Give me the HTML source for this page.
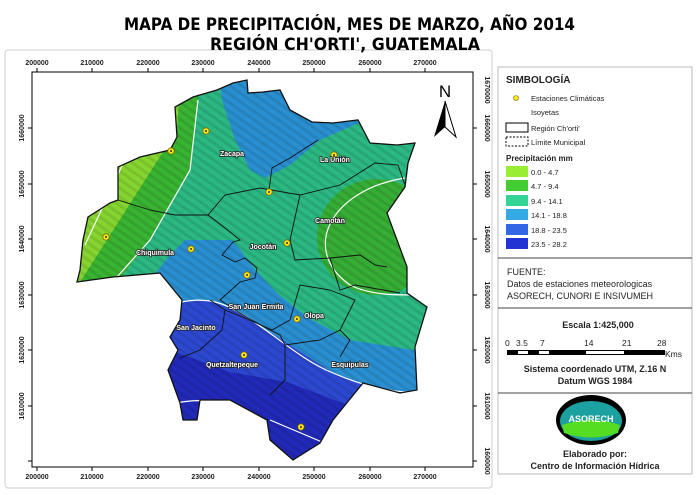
<!DOCTYPE html>
<html><head><meta charset="utf-8"><style>
body{margin:0;background:#fff}
svg{display:block;font-family:"Liberation Sans",Arial,sans-serif}
</style></head><body>
<svg width="700" height="495" viewBox="0 0 700 495" xmlns="http://www.w3.org/2000/svg">
<defs>
<clipPath id="reg"><path id="rp" d="M217,90 L233,83 L247,80 L248,93 L263,92 L280,90 L290,110 L312,122 L333,123 L358,120 L370,143 L397,145 L415,143 L408,163 L405,187 L387,213 L407,267 L407,293 L427,307 L415,347 L417,390 L400,393 L363,383 L333,420 L320,443 L293,460 L270,440 L267,420 L230,400 L200,400 L197,420 L183,420 L180,403 L168,370 L178,350 L170,337 L180,320 L182,300 L160,273 L113,277 L77,282 L80,270 L83,240 L88,217 L110,203 L118,200 L118,167 L140,157 L170,150 L177,137 L175,107 L193,97 Z"/></clipPath>
<pattern id="hs" width="7" height="7" patternUnits="userSpaceOnUse" patternTransform="rotate(35)"><rect width="7" height="3" fill="#000" opacity="0.09"/></pattern>
</defs>
<rect x="5" y="50" width="487" height="438" fill="none" stroke="#ccc" rx="3"/>
<text x="124" y="30" font-family="DejaVu Sans,sans-serif" font-size="17" font-weight="bold" textLength="451" lengthAdjust="spacingAndGlyphs">MAPA DE PRECIPITACIÓN, MES DE MARZO, AÑO 2014</text>
<text x="210" y="50" font-family="DejaVu Sans,sans-serif" font-size="17" font-weight="bold" textLength="270" lengthAdjust="spacingAndGlyphs">REGIÓN CH'ORTI', GUATEMALA</text>
<rect x="32" y="72" width="441" height="395" fill="#fff" stroke="#000"/>
<g font-size="7" font-weight="bold" fill="#222">
<g text-anchor="middle">
<text x="37" y="65">200000</text><text x="92" y="65">210000</text><text x="148" y="65">220000</text><text x="203" y="65">230000</text><text x="259" y="65">240000</text><text x="314" y="65">250000</text><text x="370" y="65">260000</text><text x="425" y="65">270000</text>
<text x="37" y="479">200000</text><text x="92" y="479">210000</text><text x="148" y="479">220000</text><text x="203" y="479">230000</text><text x="259" y="479">240000</text><text x="314" y="479">250000</text><text x="370" y="479">260000</text><text x="425" y="479">270000</text>
</g>
<g text-anchor="middle">
<text transform="translate(24,128) rotate(-90)">1660000</text><text transform="translate(24,184) rotate(-90)">1650000</text><text transform="translate(24,239) rotate(-90)">1640000</text><text transform="translate(24,295) rotate(-90)">1630000</text><text transform="translate(24,350) rotate(-90)">1620000</text><text transform="translate(24,406) rotate(-90)">1610000</text>
<text transform="translate(485,90) rotate(90)">1670000</text><text transform="translate(485,128) rotate(90)">1660000</text><text transform="translate(485,184) rotate(90)">1650000</text><text transform="translate(485,239) rotate(90)">1640000</text><text transform="translate(485,295) rotate(90)">1630000</text><text transform="translate(485,350) rotate(90)">1620000</text><text transform="translate(485,406) rotate(90)">1610000</text><text transform="translate(485,461) rotate(90)">1600000</text>
</g></g>
<g stroke="#000">
<path d="M37,72v-4M92,72v-4M148,72v-4M203,72v-4M259,72v-4M314,72v-4M370,72v-4M425,72v-4M37,467v4M92,467v4M148,467v4M203,467v4M259,467v4M314,467v4M370,467v4M425,467v4M32,128h-4M32,184h-4M32,239h-4M32,295h-4M32,350h-4M32,406h-4M32,461h-4M473,128h4M473,184h4M473,239h4M473,295h4M473,350h4M473,406h4M473,461h4"/>
</g>
<g clip-path="url(#reg)">
<rect x="60" y="70" width="380" height="400" fill="#2bb882"/>
<path d="M40,60 L200,60 L198,100 L190,170 L150,240 L115,285 L40,300 Z" fill="#38b332"/>
<path d="M40,60 L182,60 L177,130 L75,290 L40,300 Z" fill="#86d430"/>
<path d="M218,60 L222,100 L235,140 L250,170 L265,178 L290,165 L320,140 L370,118 L430,105 L430,60 Z" fill="#2a8fd0"/>
<ellipse cx="377" cy="237" rx="60" ry="58" fill="#36ad34"/>
<path d="M150,280 L170,255 L185,240 L233,240 L253,267 L277,293 L307,317 L350,340 L413,350 L440,350 L440,400 L410,392 L377,390 L333,373 L287,343 L240,313 L210,300 L182,302 L150,305 Z" fill="#2a8fd0"/>
<path d="M150,305 L182,302 L210,300 L240,313 L287,343 L333,373 L377,390 L410,392 L440,400 L440,480 L150,480 Z" fill="#2c48d0"/>
<path d="M150,350 L170,350 L230,372 L287,382 L353,407 L440,430 L440,480 L150,480 Z" fill="#2129b8"/>
<rect x="60" y="70" width="380" height="400" fill="url(#hs)"/>
<g fill="none" stroke="#fff" stroke-width="1.2">
<path d="M153,100 L120,170 L85,245"/>
<path d="M198,100 L190,170 L150,240 L117,277"/>
<path d="M405,178 C330,190 300,250 350,285 C370,295 395,295 410,295"/>
<path d="M182,302 C200,298 220,300 240,313 C270,330 300,360 333,373 C360,385 390,392 410,392"/>
<path d="M177,403 C190,400 205,400 215,402"/>
<path d="M270,420 L322,442"/>
</g>
<g fill="none" stroke="#111" stroke-width="0.9">
<path d="M118,200 L150,210 L175,215 L208,215 L225,228 L240,240 L233,242 L222,255 L235,262 L245,258 L257,268 L255,278 L240,282 L220,300 L240,313 L248,318 L270,330 L280,335 L285,345"/>
<path d="M208,215 L225,195 L260,188 L300,195 L340,185 L375,163 L398,165 L405,185"/>
<path d="M269,190 L272,168 L290,158 L318,140"/>
<path d="M300,195 L290,240 L295,260 L330,258 L360,255 L375,265 L387,267"/>
<path d="M330,258 L340,290 L355,285 L400,293"/>
<path d="M290,320 L300,285 L330,290 L355,300 L340,330 L320,340 L285,345"/>
<path d="M340,330 L350,340 L340,357"/>
<path d="M210,300 L225,310 L222,330 L200,350 L180,358"/>
<path d="M225,310 L245,318 L272,330 L290,320"/>
<path d="M285,345 L285,380 L270,395"/>
</g>
</g>
<use href="#rp" fill="none" stroke="#111" stroke-width="1.3"/>
<g fill="#ffe81a" stroke="#7a6500" stroke-width="0.8">
<circle cx="206" cy="131" r="3.2"/><circle cx="171" cy="151" r="3.2"/><circle cx="106" cy="237" r="3.2"/><circle cx="191" cy="249" r="3.2"/><circle cx="269" cy="192" r="3.2"/><circle cx="334" cy="155" r="3.2"/><circle cx="287" cy="243" r="3.2"/><circle cx="247" cy="275" r="3.2"/><circle cx="297" cy="319" r="3.2"/><circle cx="244" cy="355" r="3.2"/><circle cx="301" cy="427" r="3.2"/>
</g>
<g fill="#333"><circle cx="206" cy="131" r="1"/><circle cx="171" cy="151" r="1"/><circle cx="106" cy="237" r="1"/><circle cx="191" cy="249" r="1"/><circle cx="269" cy="192" r="1"/><circle cx="334" cy="155" r="1"/><circle cx="287" cy="243" r="1"/><circle cx="247" cy="275" r="1"/><circle cx="297" cy="319" r="1"/><circle cx="244" cy="355" r="1"/><circle cx="301" cy="427" r="1"/></g>
<g font-size="7" font-weight="bold" fill="#fff" stroke="#222" stroke-width="1.6" paint-order="stroke" text-anchor="middle">
<text x="232" y="156">Zacapa</text><text x="335" y="162">La Unión</text><text x="330" y="223">Camotán</text><text x="263" y="249">Jocotán</text><text x="155" y="255">Chiquimula</text><text x="256" y="309">San Juan Ermita</text><text x="314" y="318">Olopa</text><text x="196" y="330">San Jacinto</text><text x="232" y="367">Quetzaltepeque</text><text x="350" y="367">Esquipulas</text>
</g>
<text x="445" y="97" font-size="17" text-anchor="middle">N</text>
<path d="M445,101 L434,137 L445,127 Z" fill="#000"/><path d="M445,101 L456,137 L445,127 Z" fill="#fff" stroke="#000"/>
<rect x="498" y="67" width="194" height="407" fill="#fff" stroke="#bbb"/>
<g font-size="7.5" fill="#222">
<text x="506" y="83" font-size="10" font-weight="bold">SIMBOLOGÍA</text>
<circle cx="516" cy="98" r="2.5" fill="#ffe81a" stroke="#7a6500" stroke-width="0.6"/>
<text x="531" y="101">Estaciones Climáticas</text>
<text x="531" y="115">Isoyetas</text>
<rect x="506" y="123" width="22" height="9" fill="#fff" stroke="#000"/><text x="531" y="131">Región Ch'orti'</text>
<rect x="506" y="137" width="22" height="9" fill="#fff" stroke="#000" stroke-dasharray="2,1.5"/><text x="531" y="145">Límite Municipal</text>
<text x="506" y="161" font-weight="bold" font-size="8">Precipitación mm</text>
<rect x="506" y="166" width="22" height="11" fill="#99ee33"/><text x="531" y="175">0.0 - 4.7</text>
<rect x="506" y="180" width="22" height="11" fill="#44cc33"/><text x="531" y="189">4.7 - 9.4</text>
<rect x="506" y="195" width="22" height="11" fill="#33d496"/><text x="531" y="204">9.4 - 14.1</text>
<rect x="506" y="209" width="22" height="11" fill="#33aae4"/><text x="531" y="218">14.1 - 18.8</text>
<rect x="506" y="224" width="22" height="11" fill="#3366e4"/><text x="531" y="233">18.8 - 23.5</text>
<rect x="506" y="238" width="22" height="11" fill="#2233d4"/><text x="531" y="247">23.5 - 28.2</text>
<path d="M498,258H692M498,308H692M498,393H692" stroke="#444"/>
<text x="507" y="275" font-size="9">FUENTE:</text>
<text x="507" y="287" font-size="9">Datos de estaciones meteorologicas</text>
<text x="507" y="299" font-size="9">ASORECH, CUNORI E INSIVUMEH</text>
<text x="598" y="328" font-size="9" font-weight="bold" text-anchor="middle">Escala    1:425,000</text>
<g font-size="8.5"><text x="505" y="346">0</text><text x="516" y="346">3.5</text><text x="540" y="346">7</text><text x="584" y="346">14</text><text x="622" y="346">21</text><text x="657" y="346">28</text></g>
<rect x="507" y="350" width="158" height="5" fill="#000"/>
<rect x="518" y="351" width="10" height="3" fill="#fff"/><rect x="539" y="351" width="10" height="3" fill="#fff"/><rect x="586" y="351" width="38" height="3" fill="#fff"/>
<text x="665" y="357" font-size="8.5">Kms</text>
<text x="595" y="372" font-size="9" font-weight="bold" text-anchor="middle">Sistema coordenado UTM, Z.16 N</text>
<text x="595" y="384" font-size="9" font-weight="bold" text-anchor="middle">Datum WGS 1984</text>
<ellipse cx="591" cy="420" rx="35" ry="25" fill="#000"/>
<ellipse cx="591" cy="421" rx="31" ry="20" fill="#1aa1a0"/>
<path d="M562,425 Q591,415 620,425 L618,433 Q591,442 564,433 Z" fill="#55dd22"/>
<text x="591" y="422" font-size="9" font-weight="bold" fill="#fff" text-anchor="middle">ASORECH</text>
<text x="595" y="457" font-size="9" font-weight="bold" text-anchor="middle">Elaborado por:</text>
<text x="595" y="469" font-size="9" font-weight="bold" text-anchor="middle">Centro de Información Hídrica</text>
</g>
</svg>
</body></html>
